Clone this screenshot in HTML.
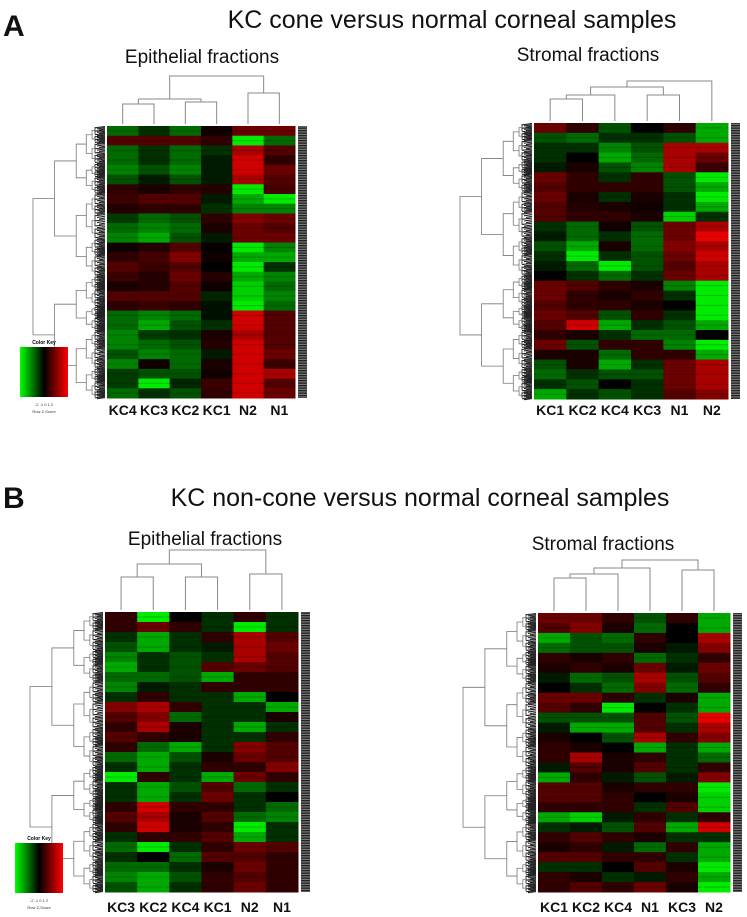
<!DOCTYPE html>
<html><head><meta charset="utf-8">
<style>
html,body{margin:0;padding:0;background:#fff;}
body{width:747px;height:917px;overflow:hidden;position:relative;font-family:"Liberation Sans",sans-serif;}
svg{position:absolute;left:0;top:0;}
</style></head>
<body>
<svg id="fig" width="747" height="917">
<defs>
<linearGradient id="keyg" x1="0" x2="1" y1="0" y2="0">
<stop offset="0" stop-color="#00ff00"/><stop offset="0.5" stop-color="#000"/><stop offset="1" stop-color="#ff0000"/>
</linearGradient>
<pattern id="lab" width="10" height="2.5" patternUnits="userSpaceOnUse">
<rect width="10" height="2.5" fill="#777"/><rect y="0" width="10" height="1.3" fill="#222"/>
</pattern>
</defs>
<text x="3" y="36" font-size="30" font-weight="bold" fill="#111">A</text>
<text x="452" y="28" font-size="25" text-anchor="middle" fill="#111">KC cone versus normal corneal samples</text>
<text x="202" y="63" font-size="19" text-anchor="middle" fill="#111">Epithelial fractions</text>
<text x="588" y="61" font-size="19" text-anchor="middle" fill="#111">Stromal fractions</text>
<text x="3" y="508" font-size="30" font-weight="bold" fill="#111">B</text>
<text x="420" y="506" font-size="25" text-anchor="middle" fill="#111">KC non-cone versus normal corneal samples</text>
<text x="205" y="545" font-size="19" text-anchor="middle" fill="#111">Epithelial fractions</text>
<text x="603" y="550" font-size="19" text-anchor="middle" fill="#111">Stromal fractions</text>
<g id="root"></g>
</svg>
<script>
// ---- data ----
const colsAL = ["KC4","KC3","KC2","KC1","N2","N1"];
const colsAR = ["KC1","KC2","KC4","KC3","N1","N2"];
const colsBL = ["KC3","KC2","KC4","KC1","N2","N1"];
const colsBR = ["KC1","KC2","KC4","N1","KC3","N2"];
const zAL = [
[-1,-0.5,-1,0.2,1,1],[0.8,0.8,0.8,0.5,-2,-1],[-1,-0.5,-1,-0.5,1.5,0.8],[-1,-0.5,-1,-0.3,1.8,0.5],
[-1.2,-0.8,-1.2,-0.3,1.8,1],[-0.8,-0.3,-0.8,-0.3,1.5,0.8],[0.5,0.3,0.5,0.4,-2,0.7],[0.6,0.8,0.8,-0.3,-1.5,-2],
[0.4,0.5,0.5,-0.5,-1.2,-1.2],[-0.6,-1,-0.8,0.5,1.2,1],[-1,-1.2,-1,0.3,1,0.8],[-1.2,-1.5,-0.8,-0.3,1,1],
[0.2,0.4,0.8,0.1,-2,-1.2],[0.5,0.7,1.2,0.2,-1.5,-1.5],[0.8,0.6,0.8,0,-2,-0.5],[0.6,0.4,1,0.4,-1.5,-1.2],
[0.3,0.4,0.8,0.2,-1.8,-1],[0.8,0.8,0.8,-0.4,-1.8,-1.2],[0.5,0.6,0.5,-0.2,-2,-1],[-1,-1.2,-1,-0.2,1.8,0.8],
[-1,-1.5,-0.8,-0.5,1.8,0.8],[-1.2,-0.6,-0.5,0.3,1.5,0.8],[-1.2,-1,-0.8,0.4,1.8,0.8],[-0.8,-1.2,-1,-0.3,1.8,1],
[-1.2,0.2,-1,0.3,1.8,0.6],[-0.6,-0.8,-0.8,0.2,1.8,1.5],[-0.6,-2,-0.4,0.6,1.8,0.8],[-1,-0.5,-0.8,0.5,1.8,1]];
const zAR = [
[1,0.5,-0.8,0,0.5,-1.5],[-0.8,-1,-0.5,-0.5,-0.8,-1.5],[-0.5,-0.5,-1.2,-0.8,1.5,1.5],[-0.5,0,-1.5,-1,1.5,1],
[-0.3,0.3,-0.8,-1.2,1.5,0.6],[1,0.5,-0.5,0.5,-0.8,-2],[0.8,0.5,0.5,0.5,-0.8,-1.5],[1,0.3,-0.5,0.3,-0.5,-2],
[0.8,0.4,0.3,0.2,-0.5,-1.5],[0.8,0.5,0.5,0.3,-1.8,-0.5],[-0.5,-1,0.2,-0.8,1,1.5],[-0.3,-1,-0.5,-1,1,2],
[-0.8,-1.5,0.3,-1,1.2,1.5],[-0.5,-2,-0.5,-0.8,1,1.8],[-0.3,-1,-2,-0.8,0.8,1.5],[0,-0.5,-1,-0.5,1,1.5],
[1,0.8,0.5,0.3,-1.2,-2],[1,0.5,0.3,0.5,-0.5,-2],[0.8,0.5,0.5,0.3,0,-2],[1,0.8,-0.8,0.5,-0.5,-2],
[0.8,1.8,-1.5,-0.5,-0.8,-1.5],[0.5,0.3,-0.5,-1,-1,0],[1,-0.8,0.5,0.5,-1.2,-2],[0.3,0.3,-1,0.5,0.5,-1.5],
[-0.8,0.3,-1.5,-0.5,1,1.5],[-1,-0.5,-0.8,-0.8,1,1.5],[-0.5,-0.8,0,-0.5,1,1.5],[-1.5,-0.5,-0.8,-0.5,0.8,1.2]];
const zBL = [
[0.5,-2,0,-0.5,0.5,-0.5],[0.5,1,0.5,-0.5,-2,-0.5],[-0.5,-1.5,-0.5,0.5,1.5,0.8],[-0.8,-1.5,-0.5,-0.3,1.5,1],
[-1.2,-0.5,-0.8,-0.5,1.5,0.8],[-1.5,-0.5,-0.8,0.8,1,0.8],[-1,-1,-0.8,-1.5,0.5,0.5],[-1.2,-0.3,-0.5,0.5,0.5,0.5],
[-0.5,0.5,-0.5,-0.5,-1.5,0],[1.2,1.5,0.5,-0.5,-0.5,-1.5],[0.8,1.2,-1,-0.5,-0.5,0.3],[0.5,1.5,0.3,-0.5,-1.5,-0.5],
[0.8,0.5,0.3,-0.5,-0.5,0.5],[0.5,-1,-1.5,-0.5,1.2,0.8],[-1,-1.5,-0.8,0.3,1,0.8],[-0.5,-1.5,-0.5,0.5,0.5,1.2],
[-2,0.5,-0.5,-1.5,1,0.5],[-0.5,-1.5,-0.8,0.8,-1,-0.5],[-0.5,-1.5,-0.5,1,-0.5,0],[0.5,1.8,0.5,0.5,-0.5,-1],
[0.8,1.5,0.3,0.8,-1,-1.2],[0.5,1.8,0.3,0.5,-2,-0.5],[-0.5,0.5,0.5,0.8,-1.5,-0.5],[-1,-2,-0.5,0.5,1,0.8],
[-0.5,0,-1,0.8,0.8,0.5],[-1,-1,-0.5,0.3,1,0.5],[-1.2,-1.5,-0.8,0.5,0.8,0.5],[-0.8,-1.5,-0.5,0.5,1,0.5]];
const zBR = [
[1,1,0.5,-0.8,0.5,-1.5],[0.8,1.2,0.3,-1,0,-1.5],[-1.5,-0.8,-1,0.5,0,1.5],[-1,-0.8,-0.8,0.3,-0.3,1.2],
[0.5,0.3,0.5,-1,-0.5,0.5],[0.3,0.5,0.3,1,-0.3,1],[-0.3,-1,-0.8,1.5,-0.8,0.8],[0,-0.5,-1,1.2,-1,0.5],
[1,1,0.5,-0.5,0.3,-1.5],[0.8,0.5,-2,0,-0.5,-1.5],[-0.8,-0.8,-0.8,0.8,-0.8,2],[-0.3,-1.5,-1.5,0.8,-0.5,1.5],
[0.3,0,-0.8,1.5,0.5,1.2],[0.5,0.3,0,-1.5,-0.5,-1.5],[0.5,1.5,0.3,0.5,-0.5,-1],[-0.3,0.8,0.3,0.8,-0.5,0.5],
[-1.5,0.5,-0.3,-0.8,-0.3,1.2],[0.8,0.8,0.3,0.5,0.5,-2],[0.8,0.8,0.5,0,0.3,-1.8],[0.5,0.5,0.5,-0.5,0.8,-1.8],
[-1.5,-1.8,-0.3,0.5,-0.5,0.5],[-0.5,-0.3,-0.8,0.8,-1.5,1.8],[0.5,0.8,0.5,0.3,-0.5,-0.5],[0.3,0.5,-0.3,-1,0.5,-1.5],
[0.8,0.8,0.5,0.5,-0.5,-1.5],[-0.5,-0.5,0,0.8,0.3,-2],[0.5,0.3,-0.5,-0.3,0.5,-1.5],[0.5,0.8,0.5,1,0.3,-2]];
const dendAL = [[0,1,22],[2,3,24],[6,7,27],[4,5,33],[8,9,50]];
const dendAR = [[0,1,24],[6,2,28],[3,4,28],[7,8,36],[9,5,42]];
const dendBL = [[0,1,35],[2,3,35],[4,5,38],[6,7,48],[9,8,62]];
const dendBR = [[0,1,35],[6,2,39],[7,3,45],[4,5,43],[8,9,53]];

// ---- drawing ----
const NS="http://www.w3.org/2000/svg";
const root=document.getElementById('root');
function mk(tag,attrs,parent){const e=document.createElementNS(NS,tag);for(const k in attrs)e.setAttribute(k,attrs[k]);(parent||root).appendChild(e);return e;}
function color(z){const t=Math.max(-1,Math.min(1,z/2));
 const v=Math.round(Math.pow(Math.abs(t),1.15)*235);
 if(t<0)return `rgb(0,${v},0)`;return `rgb(${v},0,0)`;}

function panel(id,x0,x1,y0,y1,cols,Z,dend,labelY,rowDendX,keyPos){
 const g=mk('g',{});
 
 
 const nc=cols.length,nr=Z.length;
 const xs=c=>x0+(x1-x0)*c/nc, ys=r=>y0+(y1-y0)*r/nr;
 const cw=(x1-x0)/nc, rh=(y1-y0)/nr;
 for(let r=0;r<nr;r++)for(let c=0;c<nc;c++){
  const cell=mk('rect',{x:xs(c),y:ys(r),width:cw+0.5,height:rh+0.5,fill:color(Z[r][c])},g);
  
  
 }
 for(let r=0;r<nr;r++)mk('line',{x1:x0,x2:x1,y1:ys(r)+rh*0.5,y2:ys(r)+rh*0.5,stroke:'rgba(0,0,0,0.2)','stroke-width':1},g);
 mk('line',{x1:x0-1,x2:x0-1,y1:y0,y2:y1,stroke:'#fff','stroke-width':2},g);
 for(let c=0;c<nc;c++){
  const t=mk('text',{x:xs(c)+cw/2,y:labelY,'font-size':14,'font-weight':'bold','text-anchor':'middle',fill:'#111'},g);
  t.textContent=cols[c];
  
  
 }
 const s=mk('rect',{x:x1+3,y:y0,width:9,height:y1-y0,fill:'url(#lab)'},g);
 
 
 const dg=mk('g',{stroke:'#888','stroke-width':1,fill:'none'},g);
 
 
 const nodes=[];for(let c=0;c<nc;c++)nodes.push({x:xs(c)+cw/2,h:2});
 dend.forEach(([a,b,h])=>{const A=nodes[a],B=nodes[b];const yy=y0-h;
  mk('path',{d:`M${A.x},${y0-A.h}V${yy}H${B.x}V${y0-B.h}`},dg);
  nodes.push({x:(A.x+B.x)/2,h:h});});
 const rg=mk('g',{stroke:'#777','stroke-width':0.8,fill:'none'},g);
 
 
 const W=x0-2-rowDendX;
 function tree(a,b,depth){
  if(depth>=5){const yc=(a+b)/2;
   for(let i=0;i<8;i++){const yy=a+(b-a)*(i+0.5)/8;mk('line',{x1:x0-2,x2:x0-12+(i%3)*2,y1:yy,y2:yy+1.2,stroke:'#222','stroke-width':1.1},rg);}
   mk('line',{x1:x0-12,x2:x0-12,y1:a+1,y2:b-1,stroke:'#444','stroke-width':1},rg);
   return {x:x0-12,y:yc};}
  const m=a+(b-a)*(depth%2?0.45:0.55);
  const L=tree(a,m,depth+1),R=tree(m,b,depth+1);
  const nx=rowDendX+W*[0,0.3,0.6,0.74,0.82][depth];
  mk('path',{d:`M${L.x},${L.y}H${nx}V${R.y}H${R.x}`},rg);
  return {x:nx,y:(L.y+R.y)/2};
 }
 tree(y0,y1,0);
 if(keyPos){const [kx,ky]=keyPos;
  const kg=mk('g',{},g);
  
  
  const t=mk('text',{x:kx+24,y:ky-3,'font-size':5,'font-weight':'bold','text-anchor':'middle'},kg);t.textContent='Color Key';
  mk('rect',{x:kx,y:ky,width:48,height:50,fill:'url(#keyg)'},kg);
  const t2=mk('text',{x:kx+24,y:ky+59,'font-size':4,'text-anchor':'middle',fill:'#333'},kg);t2.textContent='-2  -1  0  1  2';
  const t3=mk('text',{x:kx+24,y:ky+66,'font-size':4,'text-anchor':'middle',fill:'#333'},kg);t3.textContent='Row Z-Score';
 }
}
panel('a-epithelial',107,295,126,398,colsAL,zAL,dendAL,415,33,[20,347]);
panel('a-stromal',534,728,123,399,colsAR,zAR,dendAR,415,460,null);
panel('b-epithelial',105,298,612,892,colsBL,zBL,dendBL,912,30,[15,843]);
panel('b-stromal',538,730,613,892,colsBR,zBR,dendBR,912,463,null);
</script>
</body></html>
